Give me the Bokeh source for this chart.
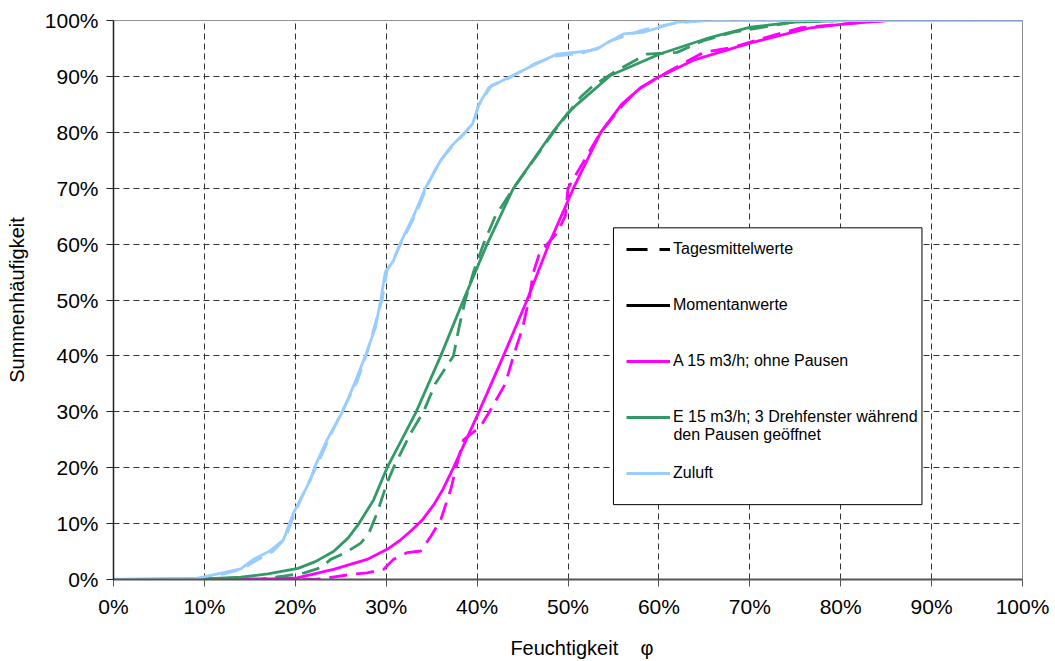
from bokeh.plotting import figure
from bokeh.models import Legend, LegendItem, FixedTicker, Label, BoxAnnotation, Range1d
from bokeh.embed import file_html
from bokeh.resources import INLINE

# ---- data (percent) ----
x_ticks = [0, 10, 20, 30, 40, 50, 60, 70, 80, 90, 100]
x_tick_labels = ["0%", "10%", "20%", "30%", "40%", "50%", "60%", "70%", "80%", "90%", "100%"]
y_ticks = [0, 10, 20, 30, 40, 50, 60, 70, 80, 90, 100]
y_tick_labels = ["0%", "10%", "20%", "30%", "40%", "50%", "60%", "70%", "80%", "90%", "100%"]

# Zuluft - Momentanwerte
zul_mom_x = [0, 8.5, 10.3, 12, 14, 15.4, 17.3, 18.7, 19.8, 21.7, 22.1, 23.5, 25.2, 26.5, 27.7, 28.8,
             29.4, 29.9, 30.8, 31.5, 33, 34.3, 36, 37.1, 38.7, 39.5, 40.2, 41.3, 43.7, 46.2, 48.8,
             52, 53.2, 54.3, 56.1, 58.3, 62, 65.7, 100]
zul_mom_y = [0, 0, 0.6, 1.2, 1.9, 3.6, 5.2, 7.1, 11.9, 17.9, 20, 25, 30, 35, 40, 45,
             50, 55, 57, 60, 65, 70, 75, 77.4, 80, 81.5, 85, 88, 90, 92, 94,
             94.5, 94.9, 96, 97.6, 97.9, 99.7, 100, 100]
# Zuluft - Tagesmittelwerte
zul_tag_x = [0, 9, 10.6, 12.4, 14.3, 15.7, 17.5, 18.9, 20, 21.5, 22.4, 23.8, 25, 26.8, 27.9, 28.6,
             29.6, 30.1, 30.6, 31.7, 33.3, 34.5, 35.8, 37.4, 38.5, 39.7, 40.1, 41.6, 43.4, 46.5, 48.5,
             51.6, 53.5, 54.6, 56.4, 58, 61.6, 65, 100]
zul_tag_y = [0, 0, 0.5, 1.1, 2.0, 3.4, 5.0, 7.3, 12.2, 17.5, 20.4, 25.6, 29.6, 35.4, 40.6, 44.6,
             50.4, 55.4, 56.6, 60.4, 65.5, 70.4, 74.6, 77.8, 79.6, 82, 84.6, 88.4, 89.6, 92.4, 93.6,
             94.2, 95.2, 96.3, 97.3, 98.2, 99.5, 100, 100]

# E 15 m3/h - Momentanwerte
e_mom_x = [0, 10, 14, 17, 20.3, 22.2, 24.2, 25.8, 27, 28.6, 30.1, 31.8, 33.3, 36, 38.5, 41.1, 44,
           48.3, 49.9, 51, 54.7, 60.1, 65.7, 70.1, 74.8, 80, 100]
e_mom_y = [0, 0.1, 0.4, 1, 2, 3.2, 5, 7.4, 10, 14.2, 20, 25.3, 30, 40, 50, 60, 70,
           80, 83.3, 85, 90.2, 94, 97, 98.8, 99.7, 100, 100]
# E 15 m3/h - Tagesmittelwerte
e_tag_x = [0, 16, 18.7, 21, 22.8, 23.9, 25.5, 27.2, 28.1, 29, 30.1, 30.8, 32.7, 34.1, 35.4, 37.4,
           38, 38.7, 39.6, 40.7, 42, 44, 48.4, 51.4, 52.8, 55.4, 58.7, 62, 64.9, 68.2, 74.8, 80, 100]
e_tag_y = [0, 0, 0.6, 1.2, 2.1, 3.6, 4.8, 6.5, 8.3, 11.9, 17.3, 20, 26.2, 30, 35, 40,
           45, 50, 55, 60, 65, 70, 80, 86.3, 88.4, 91.1, 94, 94.3, 96.4, 97.9, 99.7, 100, 100]

# A 15 m3/h - Momentanwerte
a_mom_x = [0, 17.3, 20.2, 24.2, 27.9, 30.1, 31.6, 32.8, 34, 35.2, 36.2, 37.4, 40.2, 42.9, 45.5,
           47.9, 50.6, 53.6, 55.9, 58, 60.1, 63.8, 70.1, 76.7, 80.5, 85, 100]
a_mom_y = [0, 0.1, 0.3, 1.8, 3.6, 5.4, 7.1, 8.8, 10.7, 13.3, 16, 20, 30, 40, 50,
           60, 70, 80, 85, 88, 90, 92.9, 96, 98.7, 99.4, 100, 100]
# A 15 m3/h - Tagesmittelwerte
a_tag_x = [0, 22, 22.8, 26.1, 27.9, 29.7, 30.8, 32.3, 33.8, 34.9, 36, 37.1, 38, 38.5, 40.4, 41.5,
           43.1, 44, 45, 45.7, 46.2, 46.8, 47.7, 48.8, 49.7, 50, 53.6, 56.1, 57.6, 59.4, 61.3,
           64.9, 68.2, 71.2, 75.6, 85, 100]
a_tag_y = [0, 0, 0.1, 0.9, 1.2, 1.8, 3.6, 4.8, 5.1, 7.7, 10.7, 16.1, 22, 25, 27.4, 30.4,
           35, 40, 45, 50, 55, 58, 60, 62, 65, 70, 80, 85, 87.5, 89.3, 91.1,
           94.3, 95.2, 96.7, 98.7, 100, 100]

labels = ["Tagesmittelwerte", "Momentanwerte", "A 15 m3/h; ohne Pausen",
          "E 15 m3/h; 3 Drehfenster während", "den Pausen geöffnet", "Zuluft"]

MAGENTA = "#FF00FF"
GREEN = "#339966"
LBLUE = "#99CCFF"
FONT = "Liberation Sans"
DASH = "18 9"
NAN = float("nan")

p = figure(width=1055, height=661, output_backend="svg", toolbar_location=None,
           x_range=Range1d(0, 100), y_range=Range1d(0, 100),
           min_border_left=113, min_border_right=33, min_border_top=20, min_border_bottom=81)
p.background_fill_color = "white"
p.border_fill_color = "white"
p.outline_line_color = "#909090"
p.outline_line_width = 1

# axes
for ax, ticks, labs in ((p.xaxis, x_ticks, x_tick_labels), (p.yaxis, y_ticks, y_tick_labels)):
    ax.ticker = FixedTicker(ticks=ticks)
    ax.major_label_overrides = {t: l for t, l in zip(ticks, labs)}
    ax.minor_tick_line_color = None
    ax.major_tick_in = 0
    ax.major_tick_out = 7
    ax.major_label_text_font = FONT
    ax.major_label_text_font_size = "21px"
    ax.major_label_text_color = "black"
    ax.axis_label_text_font = FONT
    ax.axis_label_text_font_size = "20px"
    ax.axis_label_text_font_style = "normal"
    ax.axis_label_text_color = "black"

p.xaxis.axis_line_color = "#555555"
p.xaxis.axis_line_width = 2
p.xaxis.major_tick_line_color = "#555555"
p.xaxis.major_label_standoff = 8
p.xaxis.axis_label = "\u00a0\u00a0\u00a0\u00a0\u00a0Feuchtigkeit\u00a0\u00a0\u00a0\u00a0φ"
p.xaxis.axis_label_standoff = 16

p.yaxis.axis_line_color = "#222222"
p.yaxis.axis_line_width = 1.5
p.yaxis.major_tick_line_color = "#222222"
p.yaxis.major_label_standoff = 8
p.yaxis.axis_label = "Summenhäufigkeit"
p.yaxis.axis_label_standoff = 14

# grid
p.xgrid.ticker = FixedTicker(ticks=x_ticks[1:-1])
p.ygrid.ticker = FixedTicker(ticks=y_ticks[1:-1])
for g in (p.xgrid, p.ygrid):
    g.grid_line_color = "#333333"
    g.grid_line_width = 1
    g.grid_line_dash = "6 4"

# curves
lw = 2.8
r_a_tag = p.line(a_tag_x, a_tag_y, line_color=MAGENTA, line_width=lw, line_dash=DASH, line_join="round")
r_e_tag = p.line(e_tag_x, e_tag_y, line_color=GREEN, line_width=lw, line_dash=DASH, line_join="round")
r_z_tag = p.line(zul_tag_x, zul_tag_y, line_color=LBLUE, line_width=lw, line_dash=DASH, line_join="round")
r_a = p.line(a_mom_x, a_mom_y, line_color=MAGENTA, line_width=lw, line_join="round")
r_e = p.line(e_mom_x, e_mom_y, line_color=GREEN, line_width=lw, line_join="round")
r_z = p.line(zul_mom_x, zul_mom_y, line_color=LBLUE, line_width=lw, line_join="round")

# legend-only renderers (invisible placeholder data)
r_leg_dash = p.line([NAN], [NAN], line_color="black", line_width=3, line_dash="21 12")
r_leg_solid = p.line([NAN], [NAN], line_color="black", line_width=3)

# legend frame
box = BoxAnnotation(left=55.0, right=88.94, bottom=13.39, top=62.91,
                    fill_color="white", fill_alpha=1.0, line_color="black", line_alpha=1.0,
                    line_width=1)
p.add_layout(box)

legend = Legend(items=[
    LegendItem(label=labels[0], renderers=[r_leg_dash]),
    LegendItem(label=labels[1], renderers=[r_leg_solid]),
    LegendItem(label=labels[2], renderers=[r_a]),
    LegendItem(label=labels[3], renderers=[r_e]),
    LegendItem(label=labels[5], renderers=[r_z]),
], location=(513, 96), glyph_width=44, glyph_height=20, label_height=20,
    spacing=36, padding=6, margin=0, label_standoff=3,
    label_text_font=FONT, label_text_font_size="16px", label_text_color="black",
    border_line_color=None, background_fill_alpha=0)
p.add_layout(legend)

second_line = Label(x=61.6, y=25.9, text=labels[4], text_font=FONT, text_font_size="16px",
                    text_color="black", text_baseline="middle", text_align="left")
p.add_layout(second_line)

open("out.html", "w").write(file_html(p, INLINE))
